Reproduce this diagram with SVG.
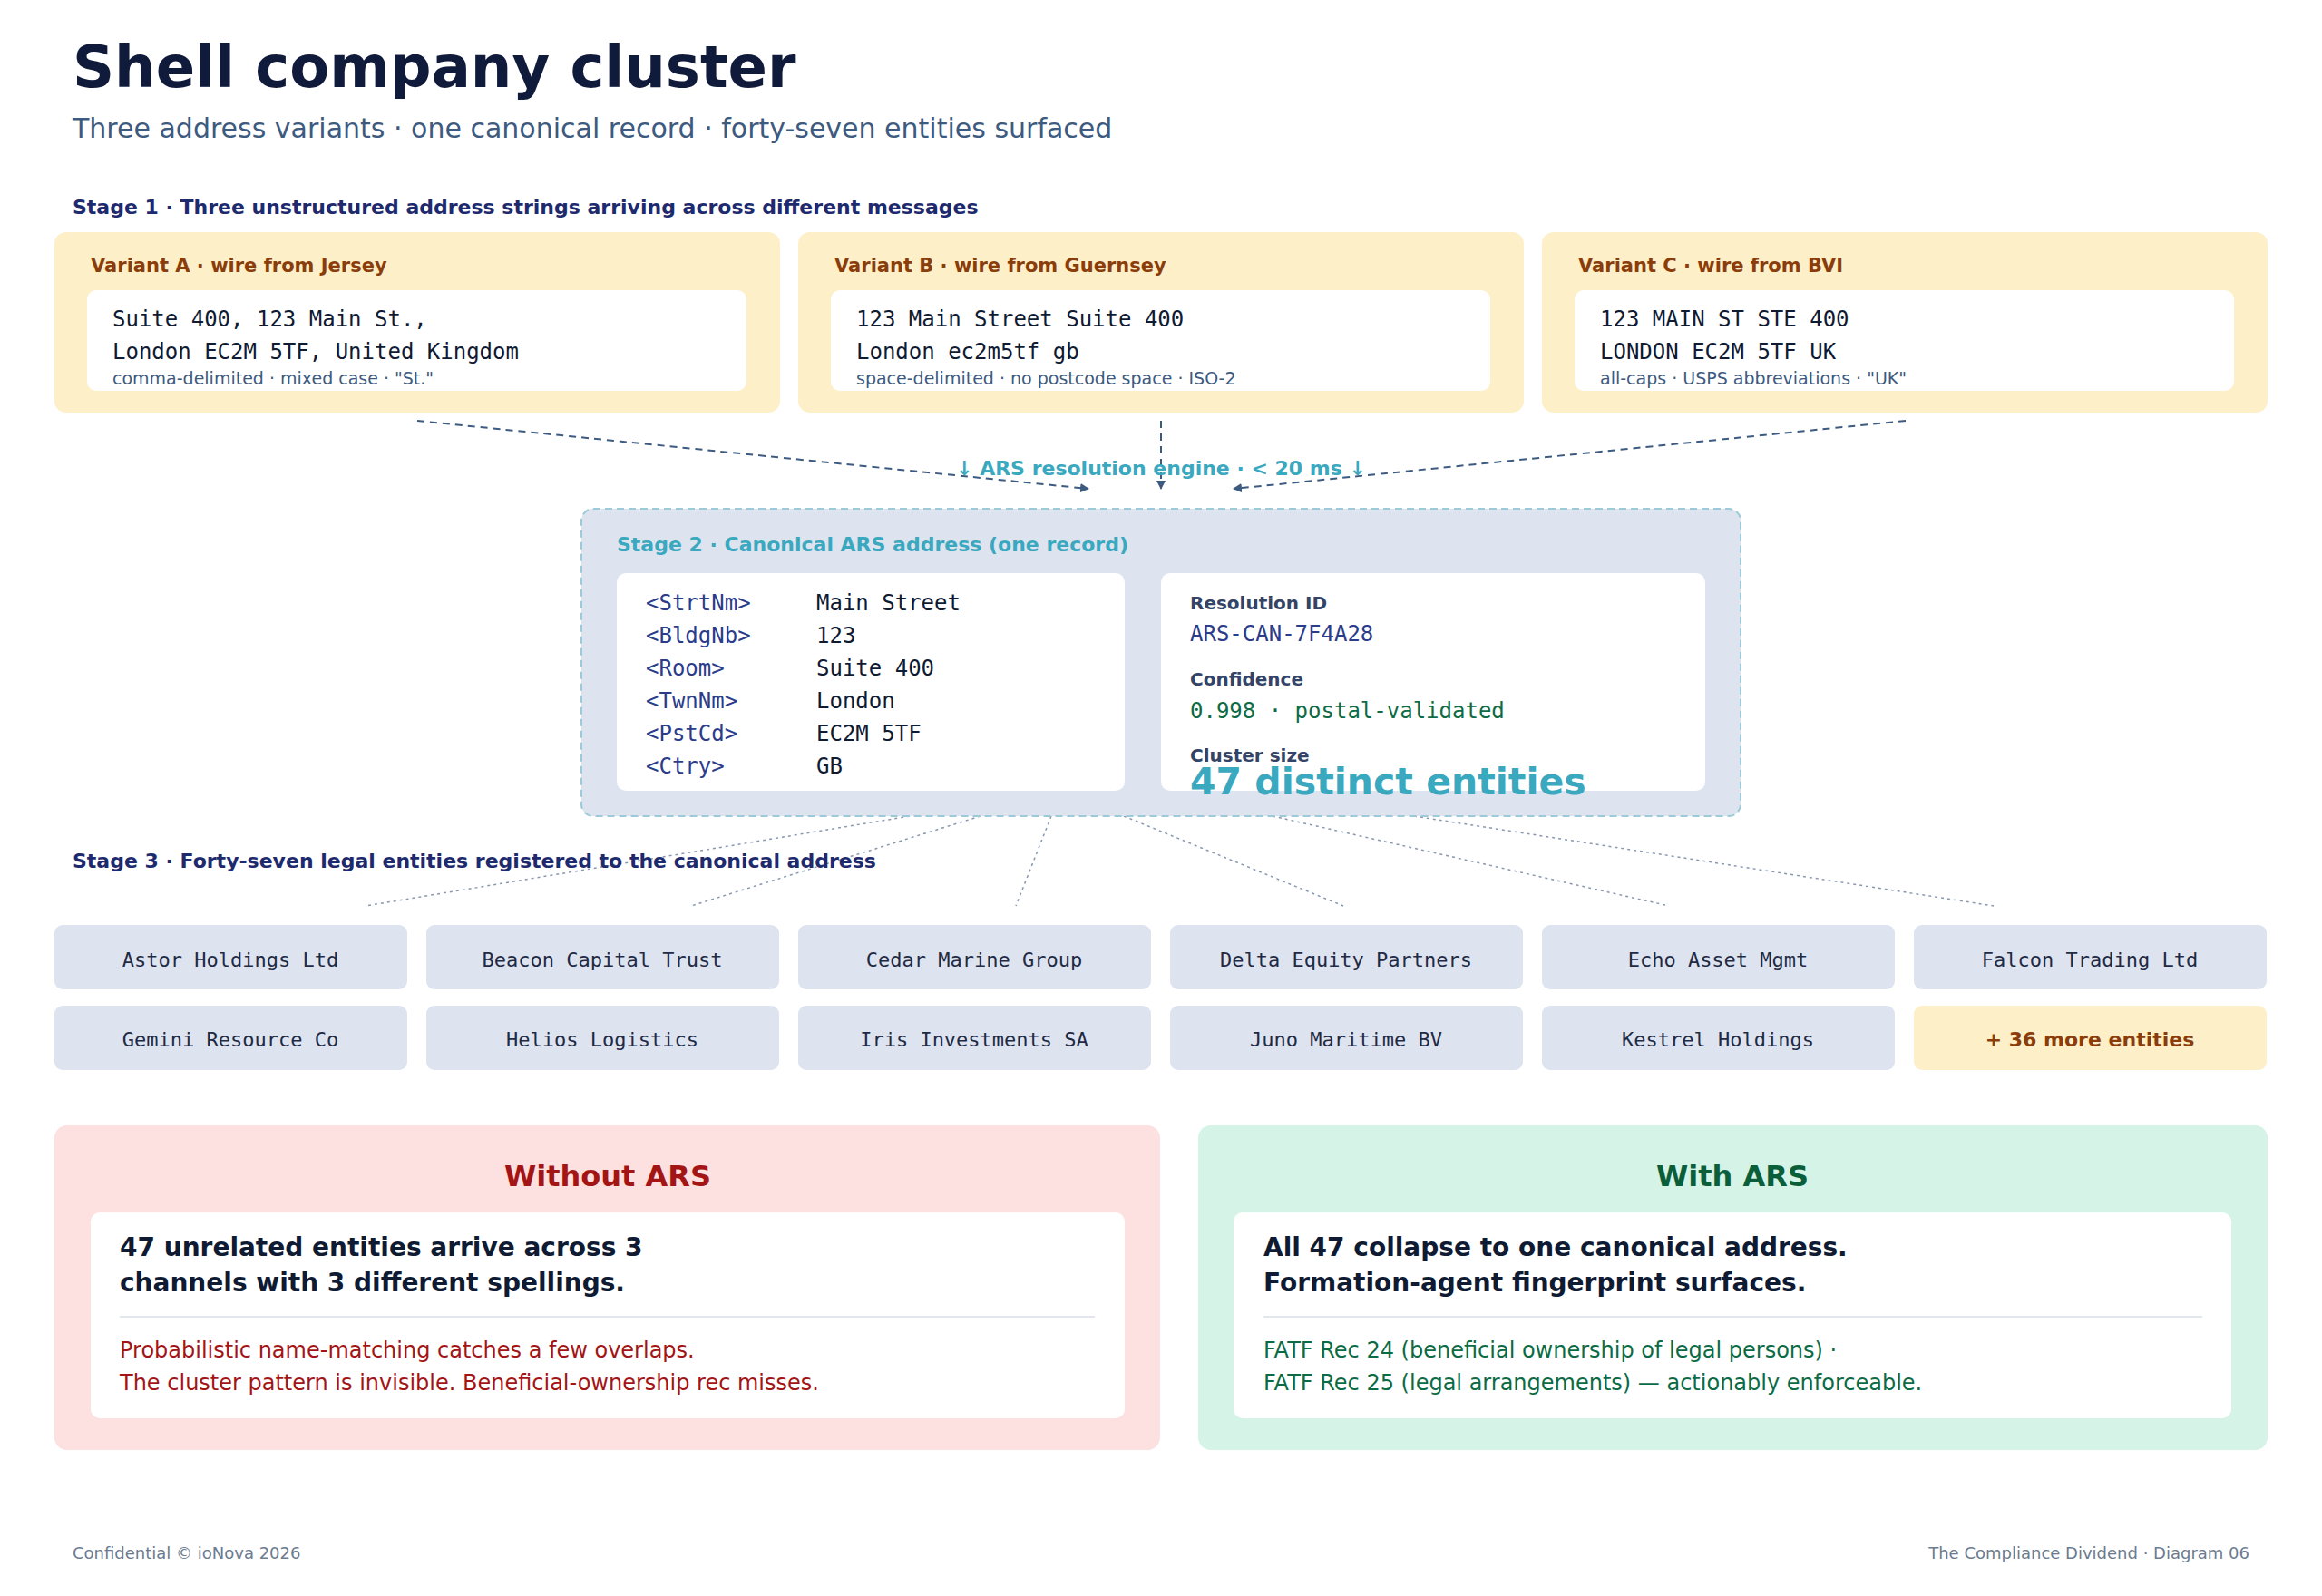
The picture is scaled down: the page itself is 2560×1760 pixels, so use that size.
<svg xmlns="http://www.w3.org/2000/svg" width="2560" height="1760" viewBox="0 0 2560 1760">
<style>
.s{font-family:"DejaVu Sans","Noto Sans",sans-serif}
.m{font-family:"DejaVu Sans Mono","Liberation Mono",monospace}
.b{font-weight:bold}
.var{fill:#fdefc8}
.vl{font-size:21px;fill:#8a3d0a}
.wh{fill:#fff}
.mt{font-size:24px;fill:#0f1a33}
.note{font-size:19px;fill:#3d5a80}
.tag{font-size:24px;fill:#2b3c8a}
.val{font-size:24px;fill:#0f1a33}
.lab{font-size:20px;fill:#334466}
.ent{fill:#dde4f0}
.et{font-size:22px;fill:#1f2a44}
.conn{stroke:#3d5a80;stroke-width:2;stroke-dasharray:8 6;fill:none}
.dot{stroke:#8898b0;stroke-width:1.5;stroke-dasharray:3 4;fill:none}
</style>
<defs><marker id="ah" viewBox="0 0 10 10" refX="9" refY="5" markerWidth="10" markerHeight="10" markerUnits="userSpaceOnUse" orient="auto"><path d="M0,0L10,5L0,10z" fill="#3d5a80"/></marker></defs>
<rect width="2560" height="1760" fill="#fff"/>
<text x="80" y="96" class="s b" font-size="64" fill="#101a3a">Shell company cluster</text>
<text x="80" y="152" class="s" font-size="30" fill="#3d5a80">Three address variants · one canonical record · forty-seven entities surfaced</text>
<text x="80" y="236" class="s b" font-size="22" fill="#1e2a6e">Stage 1 · Three unstructured address strings arriving across different messages</text>
<g id="variantA"><rect x="60" y="256" width="800" height="199" rx="13" class="var"/><text x="100" y="300" class="s b vl">Variant A · wire from Jersey</text><rect x="96" y="320" width="727" height="111" rx="10" class="wh"/><text x="124" y="360" class="m mt">Suite 400, 123 Main St.,</text><text x="124" y="396" class="m mt">London EC2M 5TF, United Kingdom</text><text x="124" y="424" class="s note">comma-delimited · mixed case · "St."</text></g>
<g id="variantB"><rect x="880" y="256" width="800" height="199" rx="13" class="var"/><text x="920" y="300" class="s b vl">Variant B · wire from Guernsey</text><rect x="916" y="320" width="727" height="111" rx="10" class="wh"/><text x="944" y="360" class="m mt">123 Main Street Suite 400</text><text x="944" y="396" class="m mt">London ec2m5tf gb</text><text x="944" y="424" class="s note">space-delimited · no postcode space · ISO-2</text></g>
<g id="variantC"><rect x="1700" y="256" width="800" height="199" rx="13" class="var"/><text x="1740" y="300" class="s b vl">Variant C · wire from BVI</text><rect x="1736" y="320" width="727" height="111" rx="10" class="wh"/><text x="1764" y="360" class="m mt">123 MAIN ST STE 400</text><text x="1764" y="396" class="m mt">LONDON EC2M 5TF UK</text><text x="1764" y="424" class="s note">all-caps · USPS abbreviations · "UK"</text></g>
<g id="connectors">
<line x1="460" y1="464" x2="1200" y2="539" class="conn" marker-end="url(#ah)"/>
<line x1="1280" y1="464" x2="1280" y2="539" class="conn" marker-end="url(#ah)"/>
<line x1="2101" y1="464" x2="1360" y2="539" class="conn" marker-end="url(#ah)"/>
<line x1="1003" y1="900" x2="403" y2="999" class="dot"/>
<line x1="1081" y1="900" x2="762" y2="999" class="dot"/>
<line x1="1159" y1="900" x2="1120" y2="999" class="dot"/>
<line x1="1239" y1="900" x2="1481" y2="999" class="dot"/>
<line x1="1403" y1="900" x2="1840" y2="999" class="dot"/>
<line x1="1559" y1="900" x2="2198" y2="999" class="dot"/>
</g>
<text x="1280" y="524" text-anchor="middle" class="s b" font-size="22" fill="#3aa8bf">↓ ARS resolution engine · &lt; 20 ms ↓</text>
<g id="canonical">
<rect x="641" y="561" width="1278" height="339" rx="13" fill="#dde4f0" stroke="#9ccad8" stroke-width="2" stroke-dasharray="8 5"/>
<text x="680" y="608" class="s b" font-size="22" fill="#3aa8bf">Stage 2 · Canonical ARS address (one record)</text>
<rect x="680" y="632" width="560" height="240" rx="10" class="wh"/>
<g class="m"><text x="712" y="673" class="tag">&lt;StrtNm&gt;</text><text x="900" y="673" class="val">Main Street</text>
<text x="712" y="709" class="tag">&lt;BldgNb&gt;</text><text x="900" y="709" class="val">123</text>
<text x="712" y="745" class="tag">&lt;Room&gt;</text><text x="900" y="745" class="val">Suite 400</text>
<text x="712" y="781" class="tag">&lt;TwnNm&gt;</text><text x="900" y="781" class="val">London</text>
<text x="712" y="817" class="tag">&lt;PstCd&gt;</text><text x="900" y="817" class="val">EC2M 5TF</text>
<text x="712" y="853" class="tag">&lt;Ctry&gt;</text><text x="900" y="853" class="val">GB</text></g>
<rect x="1280" y="632" width="600" height="240" rx="10" class="wh"/>
<text x="1312" y="672" class="s b lab">Resolution ID</text>
<text x="1312" y="707" class="m" font-size="24" fill="#2b3c8a">ARS-CAN-7F4A28</text>
<text x="1312" y="756" class="s b lab">Confidence</text>
<text x="1312" y="792" class="m" font-size="24" fill="#0d6b45">0.998 · postal-validated</text>
<text x="1312" y="840" class="s b lab">Cluster size</text>
<text x="1312" y="876" class="s b" font-size="41" fill="#3aa8bf">47 distinct entities</text>
</g>
<text x="80" y="957" class="s b" font-size="22" fill="#1e2a6e">Stage 3 · Forty-seven legal entities registered to the canonical address</text>
<g id="e1"><rect x="60" y="1020" width="389" height="71" rx="9" class="ent"/><text x="254" y="1066" text-anchor="middle" class="m et">Astor Holdings Ltd</text></g>
<g id="e2"><rect x="470" y="1020" width="389" height="71" rx="9" class="ent"/><text x="664" y="1066" text-anchor="middle" class="m et">Beacon Capital Trust</text></g>
<g id="e3"><rect x="880" y="1020" width="389" height="71" rx="9" class="ent"/><text x="1074" y="1066" text-anchor="middle" class="m et">Cedar Marine Group</text></g>
<g id="e4"><rect x="1290" y="1020" width="389" height="71" rx="9" class="ent"/><text x="1484" y="1066" text-anchor="middle" class="m et">Delta Equity Partners</text></g>
<g id="e5"><rect x="1700" y="1020" width="389" height="71" rx="9" class="ent"/><text x="1894" y="1066" text-anchor="middle" class="m et">Echo Asset Mgmt</text></g>
<g id="e6"><rect x="2110" y="1020" width="389" height="71" rx="9" class="ent"/><text x="2304" y="1066" text-anchor="middle" class="m et">Falcon Trading Ltd</text></g>
<g id="e7"><rect x="60" y="1109" width="389" height="71" rx="9" class="ent"/><text x="254" y="1154" text-anchor="middle" class="m et">Gemini Resource Co</text></g>
<g id="e8"><rect x="470" y="1109" width="389" height="71" rx="9" class="ent"/><text x="664" y="1154" text-anchor="middle" class="m et">Helios Logistics</text></g>
<g id="e9"><rect x="880" y="1109" width="389" height="71" rx="9" class="ent"/><text x="1074" y="1154" text-anchor="middle" class="m et">Iris Investments SA</text></g>
<g id="e10"><rect x="1290" y="1109" width="389" height="71" rx="9" class="ent"/><text x="1484" y="1154" text-anchor="middle" class="m et">Juno Maritime BV</text></g>
<g id="e11"><rect x="1700" y="1109" width="389" height="71" rx="9" class="ent"/><text x="1894" y="1154" text-anchor="middle" class="m et">Kestrel Holdings</text></g>
<g id="e12"><rect x="2110" y="1109" width="389" height="71" rx="9" fill="#fdefc8"/><text x="2304" y="1154" text-anchor="middle" class="s b" font-size="22" fill="#8a3d0a">+ 36 more entities</text></g>
<g id="without">
<rect x="60" y="1241" width="1219" height="358" rx="14" fill="#fde0e0"/>
<text x="670" y="1308" text-anchor="middle" class="s b" font-size="32" fill="#a31515">Without ARS</text>
<rect x="100" y="1337" width="1140" height="227" rx="10" class="wh"/>
<text x="132" y="1385" class="s b" font-size="28" fill="#0f1a33">47 unrelated entities arrive across 3</text>
<text x="132" y="1424" class="s b" font-size="28" fill="#0f1a33">channels with 3 different spellings.</text>
<line x1="132" y1="1452" x2="1207" y2="1452" stroke="#e3e6ec" stroke-width="2"/>
<text x="132" y="1497" class="s" font-size="24" fill="#a31515">Probabilistic name-matching catches a few overlaps.</text>
<text x="132" y="1533" class="s" font-size="24" fill="#a31515">The cluster pattern is invisible. Beneficial-ownership rec misses.</text>
</g>
<g id="with">
<rect x="1321" y="1241" width="1179" height="358" rx="14" fill="#d5f3e6"/>
<text x="1910" y="1308" text-anchor="middle" class="s b" font-size="32" fill="#0b5e3a">With ARS</text>
<rect x="1360" y="1337" width="1100" height="227" rx="10" class="wh"/>
<text x="1393" y="1385" class="s b" font-size="28" fill="#0f1a33">All 47 collapse to one canonical address.</text>
<text x="1393" y="1424" class="s b" font-size="28" fill="#0f1a33">Formation-agent fingerprint surfaces.</text>
<line x1="1393" y1="1452" x2="2428" y2="1452" stroke="#e3e6ec" stroke-width="2"/>
<text x="1393" y="1497" class="s" font-size="24" fill="#0b6b45">FATF Rec 24 (beneficial ownership of legal persons) ·</text>
<text x="1393" y="1533" class="s" font-size="24" fill="#0b6b45">FATF Rec 25 (legal arrangements) — actionably enforceable.</text>
</g>
<text x="80" y="1719" class="s" font-size="18" fill="#6b7b90">Confidential © ioNova 2026</text>
<text x="2480" y="1719" text-anchor="end" class="s" font-size="18" fill="#6b7b90">The Compliance Dividend · Diagram 06</text>
</svg>
